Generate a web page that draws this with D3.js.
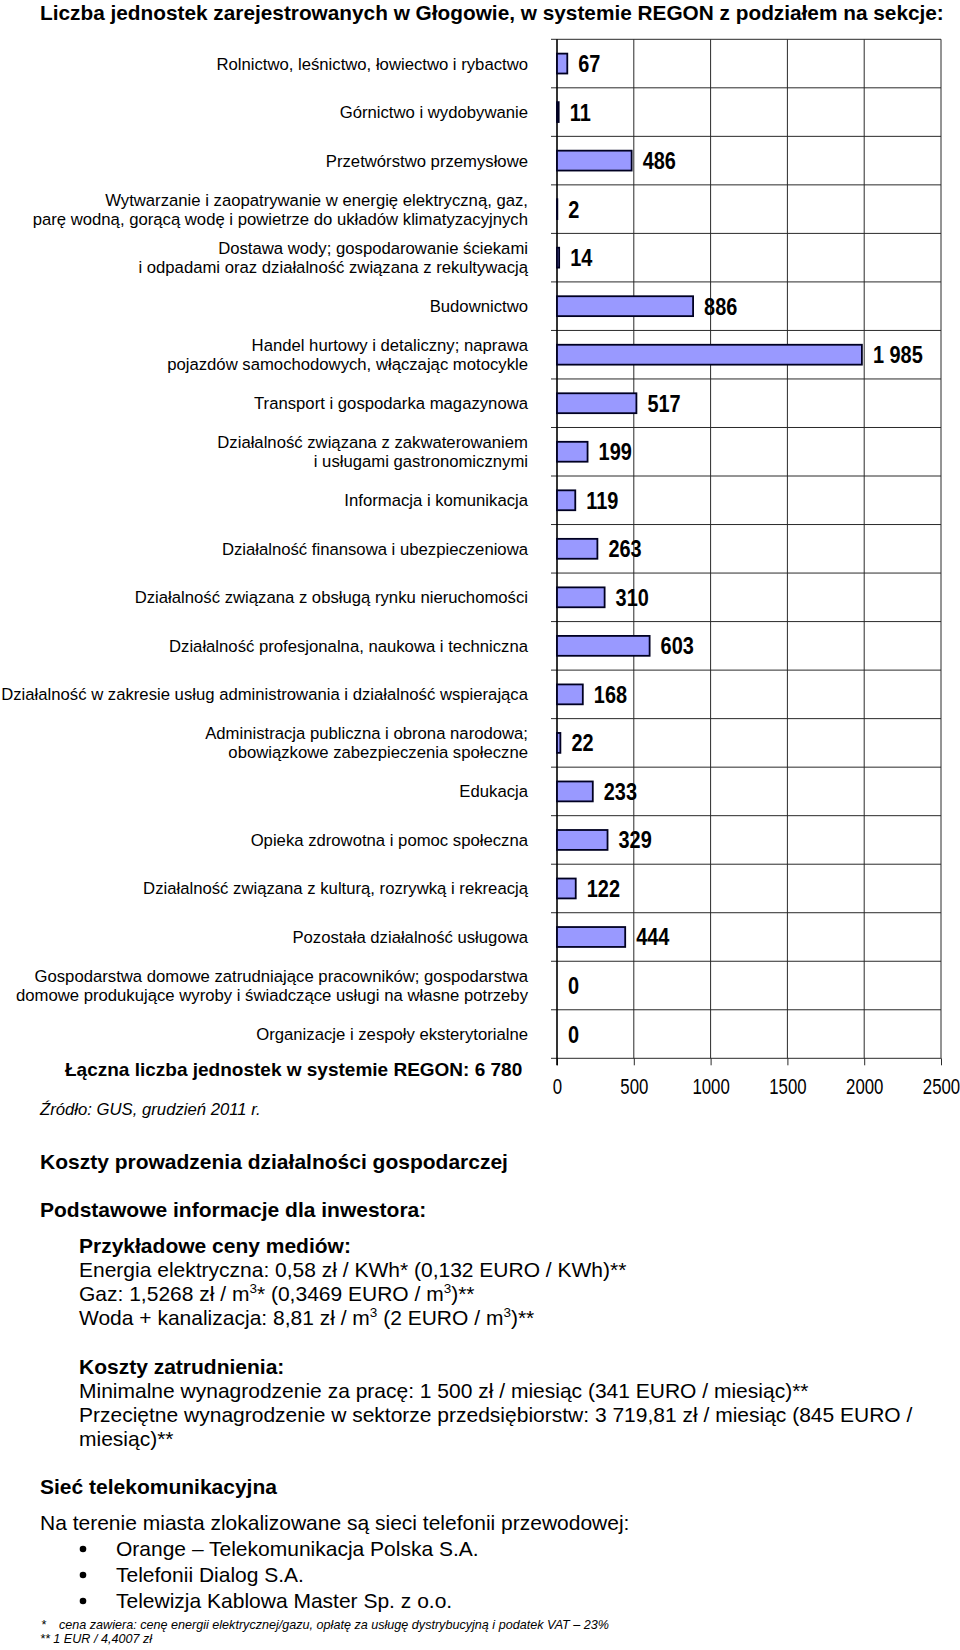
<!DOCTYPE html>
<html>
<head>
<meta charset="utf-8">
<script src="https://cdn.jsdelivr.net/npm/d3@7"></script>
<style>
  html, body { margin: 0; padding: 0; background: #fff; }
  svg { display: block; font-family: "Liberation Sans", Arial, sans-serif; }
</style>
</head>
<body>
<svg id="chart" width="960" height="1650"></svg>
<script>
// ---------- DATA ----------
const categories = [
  "Rolnictwo, leśnictwo, łowiectwo i rybactwo",
  "Górnictwo i wydobywanie",
  "Przetwórstwo przemysłowe",
  "Wytwarzanie i zaopatrywanie w energię elektryczną, gaz,\nparę wodną, gorącą wodę i powietrze do układów klimatyzacyjnych",
  "Dostawa wody; gospodarowanie ściekami\ni odpadami oraz działalność związana z rekultywacją",
  "Budownictwo",
  "Handel hurtowy i detaliczny; naprawa\npojazdów samochodowych, włączając motocykle",
  "Transport i gospodarka magazynowa",
  "Działalność związana z zakwaterowaniem\ni usługami gastronomicznymi",
  "Informacja i komunikacja",
  "Działalność finansowa i ubezpieczeniowa",
  "Działalność związana z obsługą rynku nieruchomości",
  "Działalność profesjonalna, naukowa i techniczna",
  "Działalność w zakresie usług administrowania i działalność wspierająca",
  "Administracja publiczna i obrona narodowa;\nobowiązkowe zabezpieczenia społeczne",
  "Edukacja",
  "Opieka zdrowotna i pomoc społeczna",
  "Działalność związana z kulturą, rozrywką i rekreacją",
  "Pozostała działalność usługowa",
  "Gospodarstwa domowe zatrudniające pracowników; gospodarstwa\ndomowe produkujące wyroby i świadczące usługi na własne potrzeby",
  "Organizacje i zespoły eksterytorialne"
];
const values = [67, 11, 486, 2, 14, 886, 1985, 517, 199, 119, 263, 310, 603, 168, 22, 233, 329, 122, 444, 0, 0];
const xTicks = [0, 500, 1000, 1500, 2000, 2500];
const xDomain = [0, 2500];

const titleText = "Liczba jednostek zarejestrowanych w Głogowie, w systemie REGON z podziałem na sekcje:";
const totalText = "Łączna liczba jednostek w systemie REGON: 6 780";
const sourceText = "Źródło: GUS, grudzień 2011 r.";

// ---------- CHART ----------
const svg = d3.select("#chart");
const pLeft = 557, pRight = 941, pTop = 39.3, pBottom = 1058.3;
const x = d3.scaleLinear().domain(xDomain).range([pLeft, pRight]);
const y = d3.scaleBand().domain(categories).range([pTop, pBottom]).paddingInner(0).paddingOuter(0);
const bw = y.bandwidth();
const fmt = d3.formatLocale({decimal: ",", thousands: " ", grouping: [3], currency: ["", ""]}).format(",d");
const gridColor = "#2a2a2a";

// title
svg.append("text").attr("x", 40).attr("y", 20)
  .attr("font-size", 20.8).attr("font-weight", "bold").text(titleText);

// vertical gridlines
svg.append("g").selectAll("line").data(xTicks.slice(1)).join("line")
  .attr("x1", d => x(d)).attr("x2", d => x(d))
  .attr("y1", pTop).attr("y2", pBottom)
  .attr("stroke", gridColor).attr("stroke-width", 1);

// horizontal row boundaries (with tick extending left)
const boundaries = categories.map(c => y(c)).concat([pBottom]);
svg.append("g").selectAll("line").data(boundaries).join("line")
  .attr("x1", pLeft - 6).attr("x2", pRight)
  .attr("y1", d => d).attr("y2", d => d)
  .attr("stroke", gridColor).attr("stroke-width", 1);

// bottom axis ticks + labels
const xAxis = d3.axisBottom(x).tickValues(xTicks).tickSizeInner(7).tickSizeOuter(0).tickFormat(d3.format("d"));
const gx = svg.append("g").attr("transform", `translate(0,${pBottom})`).call(xAxis);
gx.select(".domain").remove();
gx.selectAll(".tick line").attr("stroke", gridColor).attr("stroke-width", 1);
gx.selectAll(".tick text")
  .attr("y", 0).attr("dy", null)
  .attr("font-family", "'Liberation Sans', Arial, sans-serif")
  .attr("font-size", 21.5).attr("fill", "#000")
  .attr("transform", "translate(0,36) scale(0.78,1)");

// left axis line
svg.append("line").attr("x1", pLeft).attr("x2", pLeft).attr("y1", pTop).attr("y2", pBottom + 7)
  .attr("stroke", "#000").attr("stroke-width", 1.6);

// bars
const barH = bw * 0.41;
svg.append("g").selectAll("rect").data(categories.map((c, i) => ({c, v: values[i]})).filter(d => d.v > 0)).join("rect")
  .attr("x", x(0))
  .attr("y", d => y(d.c) + (bw - barH) / 2)
  .attr("width", d => x(d.v) - x(0))
  .attr("height", barH)
  .attr("fill", "#9999ff")
  .attr("stroke", "#000022").attr("stroke-width", 1.8);

// value labels
svg.append("g").selectAll("text").data(categories.map((c, i) => ({c, v: values[i]}))).join("text")
  .attr("transform", d => `translate(${x(d.v) + 11},${y(d.c) + bw / 2 + 8.5}) scale(0.83,1)`)
  .attr("font-size", 24).attr("font-weight", "bold").attr("fill", "#000")
  .text(d => fmt(d.v));

// category labels
const catG = svg.append("g").attr("font-size", 16.7).attr("fill", "#000").attr("text-anchor", "end");
categories.forEach(c => {
  const lines = c.split("\n");
  const lh = 19;
  const cy = y(c) + bw / 2;
  const t = catG.append("text");
  lines.forEach((ln, i) => {
    t.append("tspan").attr("x", 528)
      .attr("y", cy + 6 + (i - (lines.length - 1) / 2) * lh)
      .text(ln);
  });
});

// total + source
svg.append("text").attr("x", 65).attr("y", 1076)
  .attr("font-size", 19).attr("font-weight", "bold").text(totalText);
svg.append("text").attr("x", 40).attr("y", 1115)
  .attr("font-size", 16.7).attr("font-style", "italic").text(sourceText);

// ---------- TEXT SECTION ----------
const body = svg.append("g").attr("fill", "#000");
function line(xp, yp, size, weight, text) {
  return body.append("text").attr("x", xp).attr("y", yp).attr("font-size", size).attr("font-weight", weight).text(text);
}
function supLine(xp, yp, parts) {
  const t = body.append("text").attr("x", xp).attr("y", yp).attr("font-size", 21);
  let raised = false;
  parts.forEach(p => {
    if (p === "^3") {
      t.append("tspan").attr("font-size", 13.5).attr("dy", -8).text("3");
      raised = true;
    } else {
      const s = t.append("tspan").text(p);
      if (raised) { s.attr("dy", 8); raised = false; }
    }
  });
}
line(40, 1169, 21, "bold", "Koszty prowadzenia działalności gospodarczej");
line(40, 1217, 21, "bold", "Podstawowe informacje dla inwestora:");
line(79, 1253, 21, "bold", "Przykładowe ceny mediów:");
line(79, 1277, 21, "normal", "Energia elektryczna: 0,58 zł / KWh* (0,132 EURO / KWh)**");
supLine(79, 1301, ["Gaz: 1,5268 zł / m", "^3", "* (0,3469 EURO / m", "^3", ")**"]);
supLine(79, 1325, ["Woda + kanalizacja: 8,81 zł / m", "^3", " (2 EURO / m", "^3", ")**"]);
line(79, 1374, 21, "bold", "Koszty zatrudnienia:");
line(79, 1398, 21, "normal", "Minimalne wynagrodzenie za pracę: 1 500 zł / miesiąc (341 EURO / miesiąc)**");
line(79, 1422, 21, "normal", "Przeciętne wynagrodzenie w sektorze przedsiębiorstw: 3 719,81 zł / miesiąc (845 EURO /");
line(79, 1446, 21, "normal", "miesiąc)**");
line(40, 1494, 21, "bold", "Sieć telekomunikacyjna");
line(40, 1530, 21, "normal", "Na terenie miasta zlokalizowane są sieci telefonii przewodowej:");
const bullets = ["Orange – Telekomunikacja Polska S.A.", "Telefonii Dialog S.A.", "Telewizja Kablowa Master Sp. z o.o."];
bullets.forEach((b, i) => {
  const yy = 1556 + i * 26;
  body.append("circle").attr("cx", 83).attr("cy", yy - 7).attr("r", 3.3).attr("fill", "#000");
  line(116, yy, 21, "normal", b);
});
const fn = body.append("g").attr("font-size", 12.6).attr("font-style", "italic");
fn.append("text").attr("x", 41).attr("y", 1629).text("*");
fn.append("text").attr("x", 59).attr("y", 1629).text("cena zawiera: cenę energii elektrycznej/gazu, opłatę za usługę dystrybucyjną i podatek VAT – 23%");
fn.append("text").attr("x", 40).attr("y", 1643).text("** 1 EUR / 4,4007 zł");
</script>
</body>
</html>
